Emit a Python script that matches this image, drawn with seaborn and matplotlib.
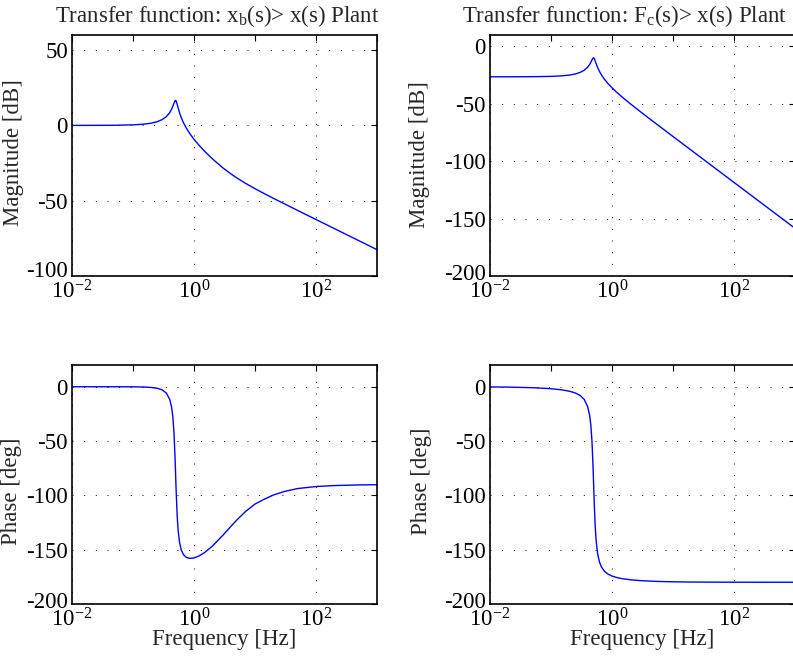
import numpy as np
import pandas as pd
import matplotlib
matplotlib.use("Agg")
import matplotlib.pyplot as plt
import seaborn as sns
from matplotlib.ticker import FixedLocator, NullFormatter
from matplotlib.transforms import ScaledTranslation

# ---- data ----
freq_hz = [0.01, 0.02, 0.05, 0.1, 0.15, 0.2, 0.25, 0.3, 0.35, 0.4, 0.43, 0.45,
           0.47, 0.49, 0.5, 0.51, 0.53, 0.55, 0.58, 0.62, 0.67, 0.75, 0.85, 1.0,
           1.2, 1.5, 2, 3, 4, 5, 7, 10, 14, 20, 30, 50, 100, 200, 500, 1000]

mag_xb_db = [0.0, 0.01, 0.09, 0.35, 0.82, 1.51, 2.48, 3.83, 5.72, 8.48, 10.81, 12.73,
             14.85, 16.44, 16.57, 16.11, 14.03, 11.58, 8.38, 5.05, 1.89, -1.86, -5.33, -9.21,
             -13.05, -17.27, -22.19, -28.31, -32.12, -34.80, -38.47, -42.02, -45.17, -48.40,
             -51.98, -56.46, -62.49, -68.52, -76.48, -82.50]

phase_xb_deg = [0.0, 0.0, 0.0, -0.07, -0.25, -0.65, -1.42, -2.86, -5.64, -11.59, -19.0, -27.7,
                -42.4, -66.56, -81.47, -96.09, -118.83, -132.47, -143.41, -150.37, -154.46,
                -157.12, -158.01, -157.59, -155.88, -152.55, -146.75, -136.54, -128.72, -122.82,
                -114.84, -108.0, -103.70, -99.68, -96.48, -93.72, -91.87, -90.97, -90.39, -90.19]

mag_fc_db = [-26.4, -26.39, -26.31, -26.05, -25.59, -24.91, -23.95, -22.61, -20.73, -17.98,
             -15.67, -13.75, -11.64, -10.05, -9.92, -10.39, -12.48, -14.93, -18.15, -21.50,
             -24.68, -28.48, -32.01, -35.99, -39.98, -44.48, -49.93, -57.28, -62.39, -66.31,
             -72.20, -78.42, -84.28, -90.48, -97.52, -106.40, -118.44, -130.48, -146.4, -158.44]

phase_fc_deg = [-0.17, -0.34, -0.87, -1.79, -2.83, -4.09, -5.71, -8.0, -11.63, -18.43, -26.35,
                -35.39, -50.45, -74.92, -90.0, -104.79, -127.86, -141.84, -153.28, -160.91,
                -165.82, -169.80, -172.32, -174.29, -175.68, -176.78, -177.71, -178.53, -178.91,
                -179.13, -179.38, -179.57, -179.69, -179.79, -179.86, -179.91, -179.96, -179.98,
                -179.99, -180.0]

titles = [r"Transfer function: x$_\mathrm{b}$(s)> x(s) Plant",
          r"Transfer function: F$_\mathrm{c}$(s)> x(s) Plant"]
xtick_vals = [1e-2, 1e0, 1e2]
xtick_labels = [r"$10^{-2}$", r"$10^{0}$", r"$10^{2}$"]
xminor_vals = [1e-1, 1e1, 1e3]

# ---- style ----
sns.set_theme(style="white")
plt.rcParams["font.family"] = ["Liberation Serif", "DejaVu Serif"]
plt.rcParams["mathtext.fontset"] = "custom"
plt.rcParams["mathtext.rm"] = "Liberation Serif"
plt.rcParams["mathtext.it"] = "Liberation Serif:italic"
plt.rcParams["mathtext.bf"] = "Liberation Serif:bold"
plt.rcParams["axes.unicode_minus"] = False

FS = 16.5
fig = plt.figure(figsize=(7.93, 6.57), dpi=100)
W = 0.3846
positions = [
    [0.0908, 0.5799, W, 0.3668],
    [0.6179, 0.5799, W, 0.3668],
    [0.0908, 0.0807, W, 0.3637],
    [0.6179, 0.0807, W, 0.3637],
]
series = [mag_xb_db, mag_fc_db, phase_xb_deg, phase_fc_deg]
ylims = [(-100, 60), (-200, 10), (-200, 20), (-200, 20)]
yticks = [[-100, -50, 0, 50], [-200, -150, -100, -50, 0],
          [-200, -150, -100, -50, 0], [-200, -150, -100, -50, 0]]
ylabels = ["Magnitude [dB]", "Magnitude [dB]", "Phase [deg]", "Phase [deg]"]
ylab_pos = [(-0.157, 0.514), (-0.197, 0.506), (-0.164, 0.473), (-0.19, 0.515)]
title_x = [0.477, 0.441]
bottom_label_lift = [0.07, 0.04, 0.04, 0.04]

for i, pos in enumerate(positions):
    ax = fig.add_axes(pos)
    df = pd.DataFrame({"f": freq_hz, "v": series[i]})
    sns.lineplot(data=df, x="f", y="v", ax=ax, color=(0, 0, 1), lw=1.0,
                 estimator=None, sort=False)
    ax.set_xscale("log")
    ax.set_xlim(1e-2, 1e3)
    ax.set_ylim(*ylims[i])
    ax.xaxis.set_major_locator(FixedLocator(xtick_vals))
    ax.set_xticklabels(xtick_labels)
    ax.xaxis.set_minor_locator(FixedLocator(xminor_vals))
    ax.xaxis.set_minor_formatter(NullFormatter())
    ax.set_yticks(yticks[i])
    ax.set_yticklabels([str(t) for t in yticks[i]])
    ax.tick_params(which="both", direction="in", top=True, right=True,
                   labelsize=FS, colors="black", length=4, width=0.8)
    ax.tick_params(axis="y", pad=3)
    ax.tick_params(axis="x", pad=3)
    ax.grid(True, which="major", color="black", linestyle=(0, (1, 11)), lw=0.7)
    for s in ax.spines.values():
        s.set_color("black")
        s.set_linewidth(1.2)
    ax.set_ylabel(ylabels[i], fontsize=FS)
    ax.yaxis.set_label_coords(*ylab_pos[i])
    # lift the lowest y tick label slightly, as in the reference
    lab0 = ax.get_yticklabels()[0]
    lab0.set_transform(lab0.get_transform() +
                       ScaledTranslation(0, bottom_label_lift[i], fig.dpi_scale_trans))
    if i < 2:
        t = ax.set_title(titles[i], fontsize=FS, pad=9)
        t.set_x(title_x[i])
        ax.set_xlabel("")
    else:
        ax.set_xlabel("Frequency [Hz]", fontsize=FS)
        ax.xaxis.set_label_coords(0.5, -0.105)

fig.savefig("out.png", dpi=100)
